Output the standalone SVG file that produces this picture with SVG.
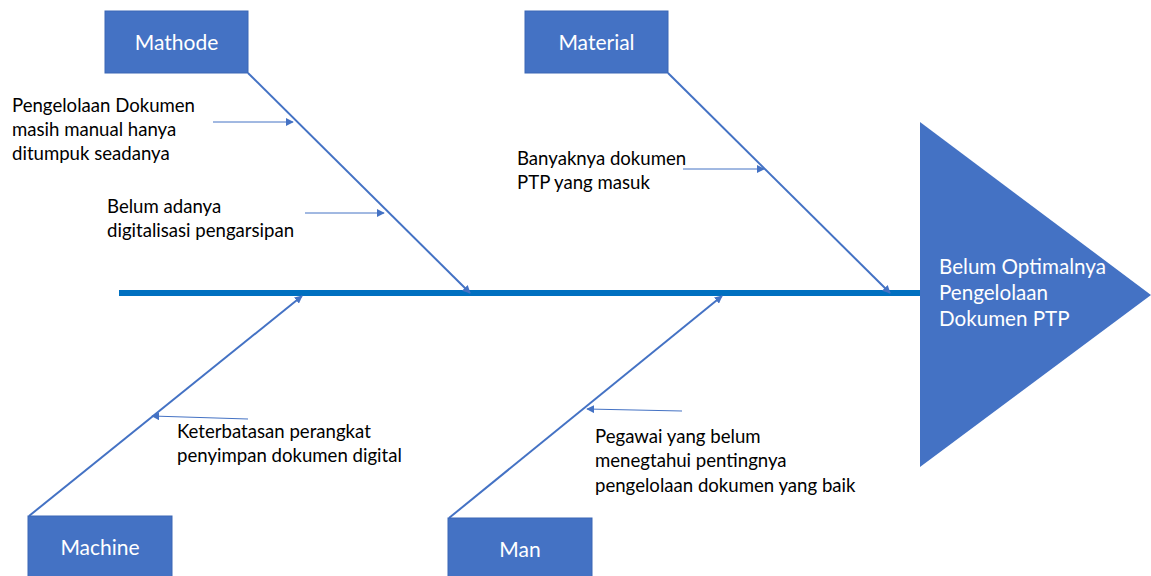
<svg xmlns="http://www.w3.org/2000/svg" width="1151" height="576" viewBox="0 0 1151 576">
<defs>
<style>
.box{fill:#4472C4;stroke:#3A66B5;stroke-width:1}
.lbl{font-family:Lato,"Liberation Sans",sans-serif;font-size:21px;fill:#FFFFFF;text-anchor:middle}
.txt{font-family:Lato,"Liberation Sans",sans-serif;font-size:18.6px;fill:#000000}
.bone{stroke:#4472C4;stroke-width:2;fill:none}
.sub{stroke:#4472C4;stroke-width:1;fill:none}
</style>
<marker id="ah" viewBox="0 0 10 10" refX="9" refY="5" markerWidth="4" markerHeight="4" orient="auto" markerUnits="strokeWidth"><path d="M0,0 L10,5 L0,10 z" fill="#4472C4"/></marker>
<marker id="ahs" viewBox="0 0 10 10" refX="9" refY="5" markerWidth="8" markerHeight="8" orient="auto" markerUnits="strokeWidth"><path d="M0,0 L10,5 L0,10 z" fill="#4472C4"/></marker>
</defs>
<rect width="1151" height="576" fill="#FFFFFF"/>
<g id="connectors">
<line x1="119" y1="293" x2="922" y2="293" stroke="#0070C0" stroke-width="6"/>
<line class="bone" x1="248" y1="73" x2="470" y2="293" marker-end="url(#ah)"/>
<line class="bone" x1="668" y1="73" x2="890" y2="293" marker-end="url(#ah)"/>
<line class="bone" x1="29" y1="516" x2="302" y2="296" marker-end="url(#ah)"/>
<line class="bone" x1="449" y1="518" x2="722" y2="296" marker-end="url(#ah)"/>
<line class="sub" x1="213" y1="122" x2="293" y2="122" marker-end="url(#ahs)"/>
<line class="sub" x1="305" y1="213" x2="384" y2="213" marker-end="url(#ahs)"/>
<line class="sub" x1="683" y1="169" x2="764" y2="169" marker-end="url(#ahs)"/>
<line class="sub" x1="248" y1="419" x2="152" y2="416" marker-end="url(#ahs)"/>
<line class="sub" x1="682" y1="411" x2="587" y2="409" marker-end="url(#ahs)"/>
</g>
<g id="effect">
<polygon points="920,122 1151,295 920,467" fill="#4472C4"/>
<text font-family="Lato,'Liberation Sans',sans-serif" font-size="20.6" fill="#FFFFFF"><tspan x="939" y="274">Belum Optimalnya</tspan><tspan x="939" y="300">Pengelolaan</tspan><tspan x="939" y="326">Dokumen PTP</tspan></text>
</g>
<g id="mathode">
<rect class="box" x="105" y="11" width="143" height="62"/>
<text class="lbl" x="176.5" y="50">Mathode</text>
</g>
<g id="material">
<rect class="box" x="525" y="11" width="143" height="62"/>
<text class="lbl" x="596.5" y="50">Material</text>
</g>
<g id="machine">
<rect class="box" x="28" y="516" width="144" height="62"/>
<text class="lbl" x="100" y="555">Machine</text>
</g>
<g id="man">
<rect class="box" x="448" y="518" width="144" height="62"/>
<text class="lbl" x="520" y="557">Man</text>
</g>
<g id="cause-mathode-1">
<text class="txt"><tspan x="12" y="112">Pengelolaan Dokumen</tspan><tspan x="12" y="136">masih manual hanya</tspan><tspan x="12" y="160">ditumpuk seadanya</tspan></text>
</g>
<g id="cause-mathode-2">
<text class="txt"><tspan x="107" y="213">Belum adanya</tspan><tspan x="107" y="237">digitalisasi pengarsipan</tspan></text>
</g>
<g id="cause-material">
<text class="txt"><tspan x="517" y="165">Banyaknya dokumen</tspan><tspan x="517" y="189">PTP yang masuk</tspan></text>
</g>
<g id="cause-machine">
<text class="txt"><tspan x="177" y="438">Keterbatasan perangkat</tspan><tspan x="177" y="462">penyimpan dokumen digital</tspan></text>
</g>
<g id="cause-man">
<text class="txt"><tspan x="595" y="443">Pegawai yang belum</tspan><tspan x="595" y="467">menegtahui pentingnya</tspan><tspan x="595" y="492">pengelolaan dokumen yang baik</tspan></text>
</g>
</svg>
